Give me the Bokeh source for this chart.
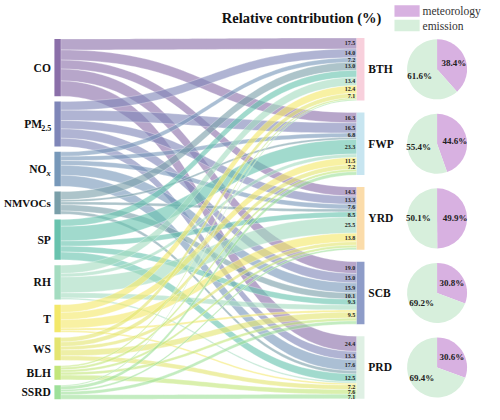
import numpy as np
from bokeh.plotting import figure
from bokeh.models import ColumnDataSource
from bokeh.core.properties import value
from bokeh.embed import file_html
from bokeh.resources import INLINE

# ---------------- data ----------------
drivers = ["CO", "PM2.5", "NOx", "NMVOCs", "SP", "RH", "T", "WS", "BLH", "SSRD"]
regions = ["BTH", "FWP", "YRD", "SCB", "PRD"]

bth = [17.5, 14.0, 7.2, 13.0, 11.0, 13.4, 12.4, 7.1, 2.6, 1.8]
fwp = [16.3, 16.5, 6.8, 3.5, 23.3, 5.5, 11.5, 7.2, 4.0, 5.4]
yrd = [14.3, 13.3, 7.6, 4.5, 8.5, 25.5, 13.8, 5.5, 4.0, 3.0]
scb = [19.0, 15.0, 15.9, 10.1, 9.3, 8.0, 3.5, 9.5, 4.5, 5.2]
prd = [24.4, 13.3, 17.6, 5.0, 12.5, 2.5, 2.8, 7.2, 7.6, 7.1]

bth_lab = ["17.5", "14.0", "7.2", "13.0", "", "13.4", "12.4", "7.1", "", ""]
fwp_lab = ["16.3", "16.5", "6.8", "", "23.3", "", "11.5", "7.2", "", ""]
yrd_lab = ["14.3", "13.3", "7.6", "", "8.5", "25.5", "13.8", "", "", ""]
scb_lab = ["19.0", "15.0", "15.9", "10.1", "9.3", "", "", "9.5", "", ""]
prd_lab = ["24.4", "13.3", "17.6", "", "12.5", "", "", "7.2", "7.6", "7.1"]

meteorology = [38.4, 44.6, 49.9, 30.8, 30.6]
emission = [61.6, 55.4, 50.1, 69.2, 69.4]

driver_colors = ["#8b6fa9", "#7f86b8", "#7798b9", "#7a9fa9", "#68c3ae",
                 "#a4dcc0", "#f3e86a", "#e4e571", "#c3e67a", "#9ee09a"]
region_colors = ["#f8d0dc", "#c7e5f0", "#fbdcaa", "#8e9cc8", "#dff0e4"]
met_color = "#d8b1e1"
emi_color = "#d7efdc"

# ---------------- layout ----------------
W, H = 500, 420
SERIF = value("Liberation Serif")


def Y(v):
    return H - np.asarray(v, dtype=float)


vals = np.array([bth, fwp, yrd, scb, prd])
labs = [bth_lab, fwp_lab, yrd_lab, scb_lab, prd_lab]
s = 0.65
gap_l, gap_r = 5.5, 12.5
xl0, xl1 = 55.7, 62.3
xr0, xr1 = 368.0, 376.0

src_tot = vals.sum(axis=0)
tgt_tot = vals.sum(axis=1)

l_top = []
y = 40.0
for t in src_tot:
    l_top.append(y)
    y += t * s + gap_l
r_top = []
y = 39.0
for t in tgt_tot:
    r_top.append(y)
    y += t * s + gap_r

p = figure(width=484, height=404, x_range=(0, W), y_range=(0, H),
           output_backend="svg", toolbar_location=None, min_border=0)
p.axis.visible = False
p.grid.visible = False
p.outline_line_color = None
p.background_fill_color = "white"

# flows
tt = np.linspace(0, 1, 50)
xm = (xl1 + xr0) / 2
bx = (1 - tt) ** 3 * xl1 + 3 * (1 - tt) ** 2 * tt * xm + 3 * (1 - tt) * tt ** 2 * xm + tt ** 3 * xr0
by = 3 * (1 - tt) * tt ** 2 + tt ** 3

xs, ys, cols = [], [], []
lab_x, lab_y, lab_t = [], [], []
right_off = [[r_top[j] + vals[j, :i].sum() * s for i in range(len(drivers))] for j in range(len(regions))]
for i in range(len(drivers)):
    off = l_top[i]
    for j in range(len(regions)):
        h = vals[j, i] * s
        ya0, ya1 = off, off + h
        yb0 = right_off[j][i]
        yb1 = yb0 + h
        top = ya0 + (yb0 - ya0) * by
        bot = ya1 + (yb1 - ya1) * by
        xs.append(list(np.concatenate([bx, bx[::-1]])))
        ys.append(list(Y(np.concatenate([top, bot[::-1]]))))
        cols.append(driver_colors[i])
        off += h
        if labs[j][i]:
            lab_x.append(xr0 - 1.5)
            lab_y.append(float(Y(yb0 + h / 2)))
            lab_t.append(labs[j][i])

p.patches(xs="xs", ys="ys", source=ColumnDataSource(dict(xs=xs, ys=ys, c=cols)),
          fill_color="c", fill_alpha=0.62, line_color="white", line_width=0.5, line_alpha=0.6)

# nodes
ltop = np.array(l_top)
lbot = ltop + src_tot * s
p.quad(left=xl0, right=xl1, top=Y(ltop), bottom=Y(lbot), fill_color=driver_colors, line_color=None)
rtop = np.array(r_top)
rbot = rtop + tgt_tot * s
p.quad(left=xr0, right=xr1, top=Y(rtop), bottom=Y(rbot), fill_color=region_colors, line_color=None)

# flow labels
p.text(x=lab_x, y=lab_y, text=lab_t, text_font=SERIF, text_font_style="bold",
       text_font_size="6px", text_align="right", text_baseline="middle", text_color="#222222")

# left labels
FS = "11.5px"
lc = (ltop + lbot) / 2
plain = [k for k, d in enumerate(drivers) if d not in ("PM2.5", "NOx", "NMVOCs")]
p.text(x=[52] * len(plain), y=list(Y(lc[plain])), text=[drivers[k] for k in plain],
       text_font=SERIF, text_font_style="bold", text_font_size=FS,
       text_align="right", text_baseline="middle", text_color="#111111")
k = drivers.index("NMVOCs")
p.text(x=[52], y=[float(Y(lc[k]))], text=["NMVOCs"], text_font=SERIF, text_font_style="bold",
       text_font_size="11px", text_align="right", text_baseline="middle", text_color="#111111")
k = drivers.index("PM2.5")
p.text(x=[43], y=[float(Y(lc[k]))], text=["PM"], text_font=SERIF, text_font_style="bold",
       text_font_size=FS, text_align="right", text_baseline="middle", text_color="#111111")
p.text(x=[52.5], y=[float(Y(lc[k] + 4))], text=["2.5"], text_font=SERIF, text_font_style="bold",
       text_font_size="8px", text_align="right", text_baseline="middle", text_color="#111111")
k = drivers.index("NOx")
p.text(x=[47.5], y=[float(Y(lc[k]))], text=["NO"], text_font=SERIF, text_font_style="bold",
       text_font_size=FS, text_align="right", text_baseline="middle", text_color="#111111")
p.text(x=[52], y=[float(Y(lc[k] + 4))], text=["x"], text_font=SERIF, text_font_style="bold italic",
       text_font_size="8.5px", text_align="right", text_baseline="middle", text_color="#111111")

# right labels
rc = (rtop + rbot) / 2
p.text(x=[380] * len(regions), y=list(Y(rc)), text=regions, text_font=SERIF,
       text_font_style="bold", text_font_size=FS, text_align="left",
       text_baseline="middle", text_color="#111111")

# title
p.text(x=[311], y=[float(Y(18))], text=["Relative contribution (%)"], text_font=SERIF,
       text_font_style="bold", text_font_size="14.5px", text_align="center",
       text_baseline="middle", text_color="#111111")

# pies
pcx = 451.0
R = 31.0
met = np.array(meteorology)
emi = np.array(emission)
a_top = np.pi / 2
a_met = a_top - met / 100 * 2 * np.pi
pcy = Y(rc)
p.wedge(x=[pcx] * 5, y=list(pcy), radius=R, start_angle=list(a_met), end_angle=[a_top] * 5,
        fill_color=met_color, line_color=None)
p.wedge(x=[pcx] * 5, y=list(pcy), radius=R, start_angle=[a_top] * 5, end_angle=list(a_met + 2 * np.pi),
        fill_color=emi_color, line_color=None)
mid_m = (a_met + a_top) / 2
mid_e = (a_top + a_met + 2 * np.pi) / 2
px = list(pcx + 0.6 * R * np.cos(mid_m)) + list(pcx + 0.62 * R * np.cos(mid_e))
py = list(pcy + 0.6 * R * np.sin(mid_m)) + list(pcy + 0.62 * R * np.sin(mid_e))
pt = ["%.1f%%" % v for v in met] + ["%.1f%%" % v for v in emi]
p.text(x=px, y=py, text=pt, text_font=SERIF, text_font_style="bold", text_font_size="9px",
       text_align="center", text_baseline="middle", text_color="#222222")

# legend
p.quad(left=[407, 407], right=[433, 433], top=list(Y([5, 20])), bottom=list(Y([17, 32])),
       fill_color=[met_color, emi_color], line_color=None)
p.text(x=[436, 436], y=list(Y([11, 26])), text=["meteorology", "emission"], text_font=SERIF,
       text_font_size="11.5px", text_align="left", text_baseline="middle", text_color="#333333")

open("out.html", "w").write(file_html(p, INLINE))
